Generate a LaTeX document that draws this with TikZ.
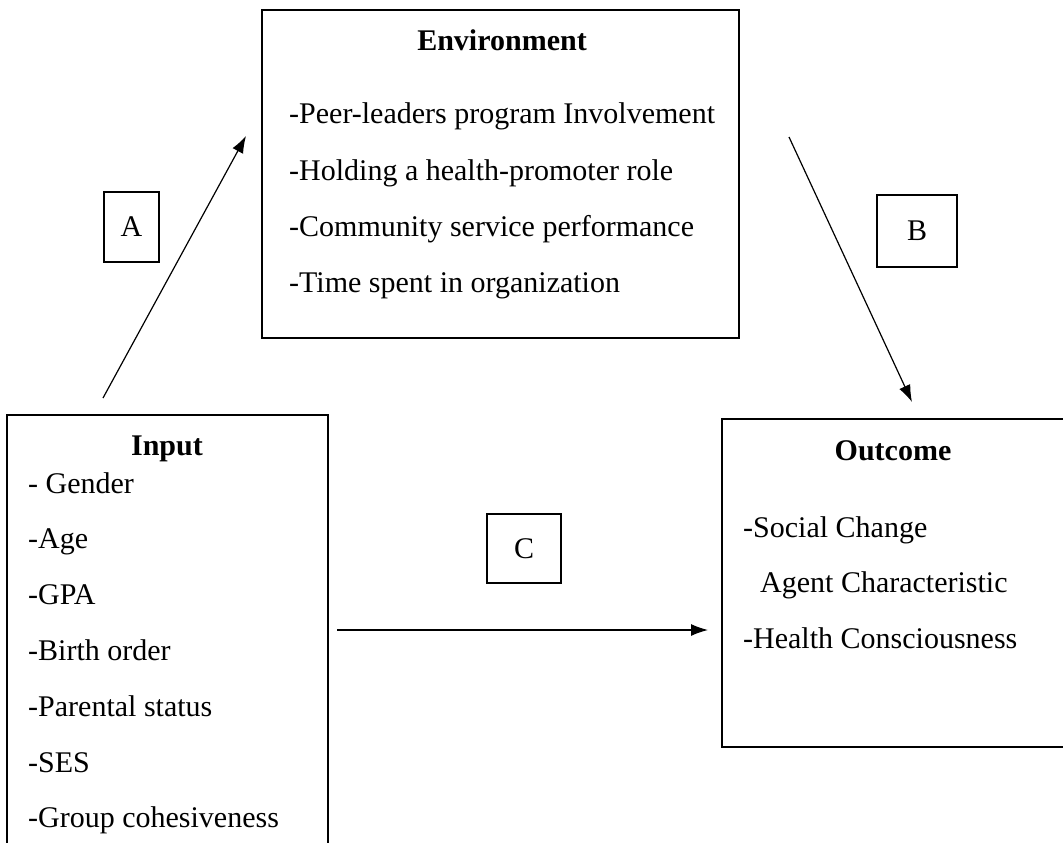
\documentclass[tikz,border=0pt]{standalone}
\usepackage{fontspec}
\setmainfont{Liberation Serif}
\usetikzlibrary{arrows.meta}
\begin{document}
\begin{tikzpicture}[x=1pt,y=-1pt,
  box/.style={draw,line width=1.3pt,inner sep=0pt},
  lbl/.style={anchor=base west,inner sep=0pt,font=\fontsize{30}{36}\selectfont},
  ttl/.style={anchor=base,inner sep=0pt,font=\fontsize{30}{36}\selectfont\bfseries},
  tag/.style={box,font=\fontsize{30}{36}\selectfont},
  conn/.style={line width=1.2pt,-{Latex[length=17pt,width=12pt]}}]
\clip (0,0) rectangle (1063,843);
\fill[white] (0,0) rectangle (1063,843);
% boxes
\node[box,minimum width=477pt,minimum height=328pt] (env) at (500.5,174) {};
\node[box,minimum width=321pt,minimum height=470pt] (inp) at (167.5,650) {};
\node[box,minimum width=345pt,minimum height=328pt] (out) at (894.5,583) {};
\node[tag,minimum width=55pt,minimum height=70pt] (a) at (131.5,227) {A};
\node[tag,minimum width=80pt,minimum height=72pt] (b) at (917,231) {B};
\node[tag,minimum width=74pt,minimum height=69pt] (c) at (524,548.5) {C};
% environment text
\node[ttl] (envt) at (502,51) {Environment};
\node[lbl] (e1) at (289,123) {-Peer-leaders program Involvement};
\node[lbl] (e2) at (289,180) {-Holding a health-promoter role};
\node[lbl] (e3) at (289,236) {-Community service performance};
\node[lbl] (e4) at (289,292) {-Time spent in organization};
% input text
\node[ttl] (inpt) at (167,455) {Input};
\node[lbl] (i1) at (28,493) {- Gender};
\node[lbl] (i2) at (28,548) {-Age};
\node[lbl] (i3) at (28,604) {-GPA};
\node[lbl] (i4) at (28,660) {-Birth order};
\node[lbl] (i5) at (28,716) {-Parental status};
\node[lbl] (i6) at (28,772) {-SES};
\node[lbl] (i7) at (28,827) {-Group cohesiveness};
% outcome text
\node[ttl] (outt) at (893,460) {Outcome};
\node[lbl] (o1) at (743,537) {-Social Change};
\node[lbl] (o2) at (760,592) {Agent Characteristic};
\node[lbl] (o3) at (743,648) {-Health Consciousness};
% connectors
\coordinate (as) at (103,398);
\coordinate (ae) at (246,136);
\coordinate (bs) at (789,137);
\coordinate (be) at (912,402);
\coordinate (cs) at (337,630);
\coordinate (ce) at (708,630);
\draw[conn] (as) -- (ae);
\draw[conn] (bs) -- (be);
\draw[conn] (cs) -- (ce);
\end{tikzpicture}
\end{document}
